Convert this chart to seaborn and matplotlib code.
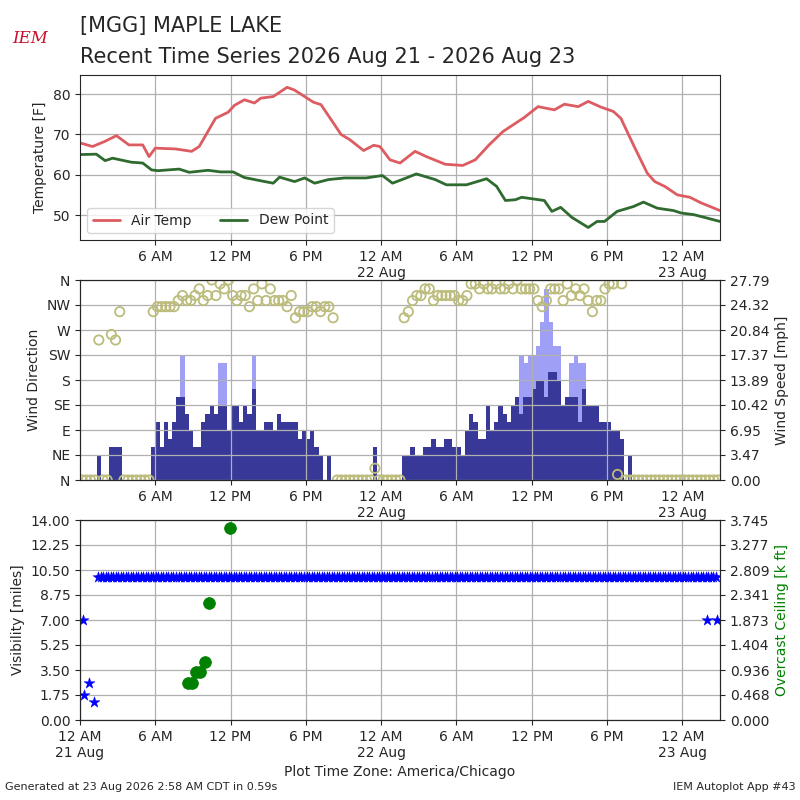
import numpy as np
import pandas as pd
import seaborn as sns
import matplotlib
matplotlib.use("Agg")
import matplotlib.pyplot as plt

# ---- data (hours since 12 AM 21 Aug) ----
temp_hr = [0, 1, 2, 2.9, 3.9, 5, 5.5, 6, 7.6, 8.9, 9.5, 10.8, 11.8, 12.3, 13.1, 13.9, 14.4, 15.4,
           16.5, 17.1, 18.6, 19.2, 20.2, 20.8, 21.5, 22.6, 23.4, 23.9, 24.7, 25.5, 26.7, 27.6,
           29.1, 30.5, 31.5, 32.6, 33.7, 35.4, 36.5, 37.8, 38.6, 39.7, 40.5, 41.5, 42.5, 43.1,
           44.1, 45.2, 45.8, 46.6, 47.6, 48.6, 49.5, 51.0]
temp_f = [67.9, 67.0, 68.3, 69.7, 67.4, 67.4, 64.5, 66.6, 66.4, 65.8, 67.0, 74.0, 75.5, 77.2,
          78.6, 77.8, 79.0, 79.4, 81.7, 81.0, 78.0, 77.4, 72.8, 70.0, 68.7, 66.0, 67.3, 67.0,
          63.7, 62.9, 65.8, 64.5, 62.6, 62.3, 63.7, 67.4, 70.7, 74.2, 76.9, 76.1, 77.5, 76.9,
          78.2, 76.8, 75.7, 74.0, 67.4, 60.4, 58.3, 57.1, 55.0, 54.4, 53.0, 51.1]
dew_hr = [0, 1.3, 2, 2.6, 4.1, 5, 5.7, 6.2, 7.9, 8.7, 10.2, 11.2, 12.2, 13.1, 14.4, 15.4, 15.9,
          17.1, 17.9, 18.7, 19.8, 21.1, 22.8, 24.1, 24.9, 26, 26.8, 28.3, 29.2, 30.8, 32.4,
          33.2, 33.9, 34.7, 35.2, 37, 37.6, 38.3, 39.2, 40.5, 41.2, 41.8, 42.8, 44.1, 44.9,
          46, 47.3, 47.9, 48.9, 49.9, 51.0]
dew_f = [65.0, 65.1, 63.5, 64.1, 63.1, 62.9, 61.2, 61.0, 61.4, 60.6, 61.1, 60.7, 60.7, 59.3,
         58.5, 57.9, 59.4, 58.3, 59.2, 57.9, 58.8, 59.2, 59.2, 59.8, 57.9, 59.2, 60.2, 58.8,
         57.5, 57.5, 59.0, 57.1, 53.6, 53.8, 54.4, 53.6, 50.9, 51.9, 49.4, 46.9, 48.4, 48.4,
         50.9, 52.1, 53.2, 51.7, 51.1, 50.5, 50.1, 49.3, 48.4]

# wind, one value per 20 minutes
wind_mph = ([0] * 4 + [3.4] + [0] * 2 + [4.6] * 3 + [0] * 7 +
            [4.6, 8.0, 4.6, 8.0, 5.7, 8.0, 11.5, 11.5, 9.2, 6.9, 4.6, 4.6, 8.0, 9.2, 10.4,
             9.2, 10.4, 10.4, 6.9, 10.4, 10.4, 8.0, 10.4, 9.2, 12.7, 6.9, 6.9, 8.0, 8.0, 6.9,
             9.2, 8.0, 8.0, 8.0, 8.0, 5.7, 6.9, 5.7, 6.9, 4.6, 3.4, 0, 3.4] +
            [0] * 10 + [4.6] + [0] * 6 +
            [3.4, 3.4, 4.6, 3.4, 3.4, 4.6, 4.6, 5.7, 4.6, 4.6, 5.7, 5.7, 4.6, 4.6, 3.4, 6.9,
             9.2, 8.0, 5.7, 5.7, 10.4, 6.9, 8.0, 10.4, 9.2, 8.0, 10.4, 11.5, 9.2, 11.5, 11.5,
             12.7, 13.9, 13.9, 11.5, 15.0, 15.0, 13.9, 10.4, 11.5, 11.5, 11.5, 8.0, 12.7, 10.4,
             10.4, 10.4, 8.0, 8.0, 8.0, 6.9, 6.9, 5.7, 0, 3.4] +
            [0] * 21)
gust_mph = {24: 17.4, 33: 16.2, 34: 16.2, 41: 17.4, 105: 17.4, 106: 16.2, 107: 17.4,
            108: 17.4, 109: 18.6, 110: 22.0, 111: 26.5, 112: 22.0, 113: 18.6, 114: 18.6,
            117: 16.2, 118: 17.4, 119: 16.2, 120: 16.2}
wind_dir = ([0] * 4 + [252] + [0, 0] + [262, 252, 303] + [0] * 7 +
            [303, 312, 312, 312, 312, 312, 323, 332, 323, 323, 332, 344, 323, 332, 360, 332,
             353, 344, 360, 332, 323, 332, 332, 312, 344, 323, 353, 323, 344, 323, 323, 323,
             312, 332, 292, 303, 303, 303, 312, 312, 303, 312, 312, 292] +
            [0] * 9 + [21] + [0] * 6 +
            [292, 303, 323, 332, 332, 344, 344, 323, 332, 332, 332, 332, 332, 323, 323, 332,
             353, 353, 344, 353, 344, 344, 353, 344, 344, 353, 344, 360, 344, 344, 344, 344,
             323, 312, 323, 344, 344, 344, 323, 353, 332, 344, 332, 344, 323, 303, 323, 323,
             344, 353, 353, 10, 353] +
            [0] * 23)

# visibility / ceiling
vis_hr = [0.24, 0.34, 0.73, 1.1, 49.96, 50.8]
vis_mi = [7.0, 1.75, 2.57, 1.28, 7.0, 7.0]
vis_clear_start, vis_clear_end, vis_clear_step = 1.45, 50.8, 0.2
ceil_hr = [8.6, 8.9, 9.25, 9.56, 9.96, 10.3, 11.95]
ceil_kft = [0.687, 0.687, 0.893, 0.893, 1.092, 2.185, 3.59]

dir_labels = ["N", "NE", "E", "SE", "S", "SW", "W", "NW", "N"]
tick_hours = [0, 6, 12, 18, 24, 30, 36, 42, 48]
tick_labels = ["12 AM\n21 Aug", "6 AM", "12 PM", "6 PM", "12 AM\n22 Aug", "6 AM", "12 PM",
               "6 PM", "12 AM\n23 Aug"]

sns.set_style("ticks")
plt.rcParams["font.family"] = ["DejaVu Sans"]
XMAX = 51.0
GRID = dict(color="#b0b0b0", lw=0.9)

fig = plt.figure(figsize=(8, 8), dpi=100)

# ---- temperature panel ----
ax1 = fig.add_axes([0.1, 0.70, 0.8, 0.206])
sns.lineplot(x=temp_hr, y=temp_f, ax=ax1, color="#dc5c62", lw=2, label="Air Temp")
sns.lineplot(x=dew_hr, y=dew_f, ax=ax1, color="#2f6a2f", lw=2, label="Dew Point")
ax1.set_xlim(0, XMAX)
ax1.set_ylim(43.8, 84.7)
ax1.set_yticks([50, 60, 70, 80])
ax1.set_xticks(tick_hours[1:])
ax1.set_xticklabels(tick_labels[1:])
ax1.set_ylabel("Temperature [F]")
ax1.grid(True, **GRID)
ax1.legend(loc="lower left", ncol=2)

# ---- wind panel ----
ax2 = fig.add_axes([0.1, 0.40, 0.8, 0.25])
ax2r = ax2.twinx()
n = len(wind_mph)
wt = np.arange(n) / 3.0
gust = [gust_mph.get(i, w) for i, w in enumerate(wind_mph)]
ax2r.bar(wt, gust, width=0.345, align="edge", color="#9f9ff5", linewidth=0)
ax2r.bar(wt, wind_mph, width=0.345, align="edge", color="#373898", linewidth=0)
ax2r.set_ylim(0, 27.79)
ax2r.set_yticks(np.linspace(0, 27.79, 9))
ax2r.set_yticklabels(["%.2f" % v for v in np.linspace(0, 27.79, 9)])
ax2r.set_ylabel("Wind Speed [mph]")
ax2.set_zorder(ax2r.get_zorder() + 1)
ax2.patch.set_visible(False)
sns.scatterplot(x=wt + 1 / 6, y=wind_dir[:n], ax=ax2, marker="o", s=45,
                facecolor="none", edgecolor="#bcbc7c", linewidth=1.3)
ax2.set_ylim(0, 360)
ax2.set_yticks(range(0, 361, 45))
ax2.set_yticklabels(dir_labels)
ax2.set_ylabel("Wind Direction")
ax2.set_xlim(0, XMAX)
ax2.set_xticks(tick_hours[1:])
ax2.set_xticklabels(tick_labels[1:])
ax2.grid(True, **GRID)

# ---- visibility panel ----
ax3 = fig.add_axes([0.1, 0.10, 0.8, 0.25])
ax3r = ax3.twinx()
clear_hr = np.arange(vis_clear_start, vis_clear_end, vis_clear_step)
clear_mi = [10.0] * len(clear_hr)
sns.scatterplot(x=list(clear_hr) + vis_hr, y=clear_mi + vis_mi, ax=ax3, marker="*",
                s=70, color="blue", edgecolor="blue", linewidth=0.3, zorder=3)
sns.scatterplot(x=ceil_hr, y=ceil_kft, ax=ax3r, marker="o", s=70, color="green",
                edgecolor="green")
ax3.set_ylim(0, 14)
ax3.set_yticks(np.arange(0, 14.01, 1.75))
ax3.set_yticklabels(["%.2f" % v for v in np.arange(0, 14.01, 1.75)])
ax3.set_ylabel("Visibility [miles]")
ax3r.set_ylim(0, 3.745)
ax3r.set_yticks(np.linspace(0, 3.745, 9))
ax3r.set_yticklabels(["%.3f" % v for v in np.linspace(0, 3.745, 9)])
ax3r.set_ylabel("Overcast Ceiling [k ft]", color="green")
ax3.set_xlim(0, XMAX)
ax3.set_xticks(tick_hours)
ax3.set_xticklabels(tick_labels)
ax3.set_xlabel("Plot Time Zone: America/Chicago")
ax3.grid(True, **GRID)

# ---- titles / footer ----
fig.text(0.1, 0.968, "[MGG] MAPLE LAKE", fontsize=15, va="center")
fig.text(0.1, 0.929, "Recent Time Series 2026 Aug 21 - 2026 Aug 23", fontsize=15, va="center")
fig.text(0.038, 0.952, "IEM", fontsize=12, color="#c8102e", style="italic",
         family="DejaVu Serif", ha="center", va="center")
fig.text(0.006, 0.012, "Generated at 23 Aug 2026 2:58 AM CDT in 0.59s", fontsize=8)
fig.text(0.994, 0.012, "IEM Autoplot App #43", fontsize=8, ha="right")

fig.savefig("out.png", dpi=100)
